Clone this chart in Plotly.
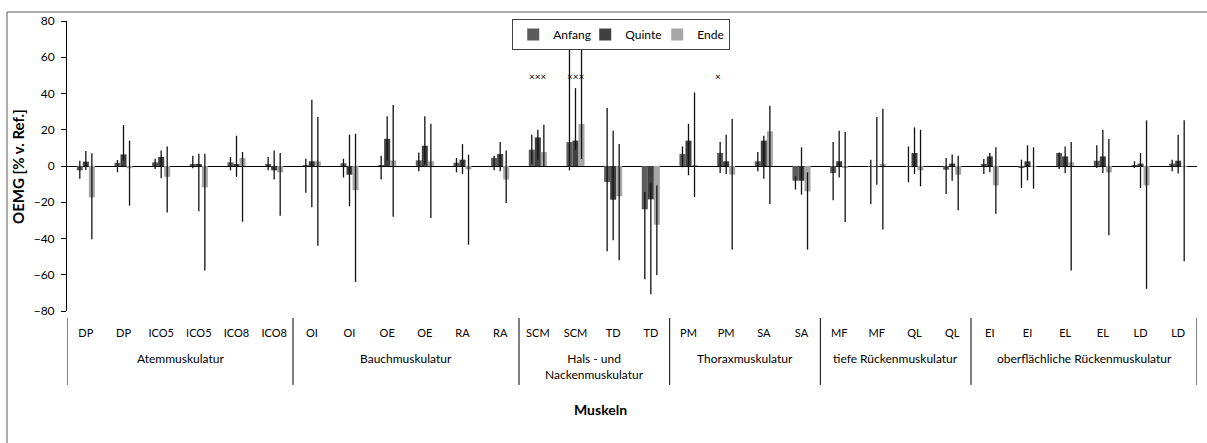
import plotly.graph_objects as go

# ---- data ----
muscles = ["DP", "DP", "ICO5", "ICO5", "ICO8", "ICO8",
           "OI", "OI", "OE", "OE", "RA", "RA",
           "SCM", "SCM", "TD", "TD",
           "PM", "PM", "SA", "SA",
           "MF", "MF", "QL", "QL",
           "EI", "EI", "EL", "EL", "LD", "LD"]
group_names = ["Atemmuskulatur", "Bauchmuskulatur", "Hals - und<br>Nackenmuskulatur",
               "Thoraxmuskulatur", "tiefe Rückenmuskulatur", "oberflächliche Rückenmuskulatur"]
group_sizes = [6, 6, 4, 4, 4, 6]

anfang = [-2.4, 1.8, 2.0, 0.7, 2.0, 0.7, 0.3, 1.5, 0.3, 3.1, 1.8, 4.4, 9.0, 13.2, -8.8,
          -23.9, 6.6, 7.2, 2.6, -8.1, -3.9, -0.5, -0.5, -2.0, 0.7, -0.7, 7.2, 2.9, 0.5, 1.3]
anfang_hi = [2.9, 3.3, 4.0, 5.7, 5.0, 5.0, 4.0, 4.0, 5.7, 7.4, 4.4, 5.7, 17.3, 69.0, 32.0,
             -14.3, 10.8, 13.2, 7.7, -5.7, 13.2, 3.5, 10.8, 4.4, 3.9, 3.5, 7.5, 11.4, 2.6, 3.5]
anfang_lo = [-7.0, -3.4, -1.7, -1.3, -2.4, -2.4, -14.7, -6.3, -7.5, -2.9, -3.5, -2.4, 1.0, -2.4, -47.0,
             -62.5, -0.7, -3.9, -2.9, -13.0, -18.9, -21.0, -9.0, -15.4, -4.4, -12.1, -1.7, -1.1, -1.1, -2.9]

quinte = [2.4, 6.4, 5.0, 0.7, 0.7, -2.4, 2.6, -4.8, 15.0, 11.2, 3.5, 6.6, 15.8, 14.0, -18.6,
          -18.4, 14.0, 2.6, 14.0, -8.1, 2.6, -0.5, 7.2, 1.3, 5.3, 2.6, 5.3, 5.3, 1.3, 2.9]
quinte_hi = [8.3, 22.6, 8.5, 6.8, 16.7, 8.5, 36.6, 17.3, 27.4, 27.4, 12.1, 13.2, 20.0, 43.0, 19.5,
             -9.7, 23.3, 17.3, 16.7, 10.3, 19.5, 27.0, 21.3, 6.3, 7.2, 11.4, 10.8, 20.0, 7.2, 17.3]
quinte_lo = [-2.2, 3.0, -6.8, -25.0, -6.0, -7.4, -22.8, -22.2, 3.0, 1.0, -4.4, -2.9, 3.5, 9.0, -41.0,
             -70.8, -5.1, -4.4, -7.0, -15.8, -6.3, -10.3, -4.4, -8.1, -3.5, -7.9, -3.9, -3.9, -12.1, -4.2]

ende = [-17.3, -1.2, -6.0, -11.8, 4.4, -3.5, 2.6, -13.4, 3.1, 2.6, -1.8, -7.5, 7.7, 23.2, -16.7,
        -32.4, 0.3, -4.8, 19.1, -14.0, -1.1, 0.7, -2.4, -4.8, -10.7, -0.3, 2.0, -3.5, -10.7, -0.5]
ende_hi = [7.0, 14.0, 10.8, 6.8, 7.7, 7.2, 27.0, 17.8, 33.6, 23.3, 6.3, 8.5, 22.8, 71.0, 12.1,
           -10.8, 40.6, 26.0, 33.3, -3.5, 18.8, 31.6, 20.0, 5.7, 10.3, 10.3, 13.2, 14.9, 25.2, 25.2]
ende_lo = [-40.4, -21.9, -25.6, -57.7, -30.7, -27.4, -44.0, -64.0, -28.0, -28.7, -43.4, -20.4, 0.0, 3.9, -52.0,
           -60.1, -17.1, -46.1, -21.0, -46.1, -30.9, -35.1, -11.2, -24.4, -26.3, -12.5, -57.7, -38.2, -67.8, -52.6]

# significance markers: (category index, text)
marks = [(12, "×××"), (13, "×××"), (17, "×")]
mark_level = 49.4

# ---- unique category keys (muscle names repeat) ----
keys = [f"{m}#{i}" for i, m in enumerate(muscles)]

FONT = "Lato"
series = [
    ("Anfang", anfang, anfang_hi, anfang_lo, "#5c5c5c"),
    ("Quinte", quinte, quinte_hi, quinte_lo, "#404040"),
    ("Ende", ende, ende_hi, ende_lo, "#a6a6a6"),
]

fig = go.Figure()
for name, vals, hi, lo, col in series:
    fig.add_trace(go.Bar(
        name=name, x=keys, y=vals, marker=dict(color=col, line=dict(width=0)),
        error_y=dict(type="data", symmetric=False,
                     array=[h - v for h, v in zip(hi, vals)],
                     arrayminus=[v - l for v, l in zip(vals, lo)],
                     color="#111111", thickness=1.3, width=0),
    ))

for idx, txt in marks:
    fig.add_annotation(x=idx, y=mark_level, xref="x", yref="y", text=txt, showarrow=False,
                       font=dict(family=FONT, size=10, color="#000000"),
                       xshift=-8 if txt == "×" else 0)

# group labels and dividers on the category axis
start = 0
bounds = [-0.5]
for g, n in zip(group_names, group_sizes):
    fig.add_annotation(x=start + (n - 1) / 2, xref="x", y=-0.131, yref="paper",
                       yanchor="top", xanchor="center", text=g, showarrow=False,
                       font=dict(family=FONT, size=12, color="#000000"))
    start += n
    bounds.append(start - 0.5)
for b in bounds:
    fig.add_shape(type="line", xref="x", yref="paper", x0=b, x1=b, y0=-0.024, y1=-0.255,
                  line=dict(color="#000000", width=1))

fig.add_annotation(xref="paper", yref="paper", x=-0.0434, y=0.5, text="<b>OEMG [% v. Ref.]</b>",
                   textangle=-90, showarrow=False, xanchor="center", yanchor="middle",
                   font=dict(family=FONT, size=15, color="#000000"))
fig.add_annotation(xref="paper", yref="paper", x=0.4717, y=-0.341, text="<b>Muskeln</b>",
                   showarrow=False, xanchor="center", yanchor="middle",
                   font=dict(family=FONT, size=14, color="#000000"))

# outer chart border
fig.add_shape(type="rect", xref="paper", yref="paper", x0=-0.0531, x1=1.06, y0=-0.5, y1=1.031,
              line=dict(color="#595959", width=1), layer="below")

fig.update_layout(
    width=1207, height=443,
    margin=dict(l=67, r=10, t=21, b=132),
    paper_bgcolor="white", plot_bgcolor="white",
    barmode="group", bargap=0.52, bargroupgap=0,
    font=dict(family=FONT, size=11, color="#000000"),
    legend=dict(orientation="h", x=0.394, y=1.007, xanchor="left", yanchor="top",
                bgcolor="white", bordercolor="#404040", borderwidth=1,
                font=dict(family=FONT, size=12), itemwidth=30,
                entrywidth=27, entrywidthmode="pixels"),
    xaxis=dict(type="category", range=[-0.5, len(muscles) - 0.5], showline=False, ticks="",
               showgrid=False, tickmode="array", tickvals=keys, ticktext=muscles,
               tickangle=0, ticklabelstandoff=14,
               tickfont=dict(family=FONT, size=11, color="#000000")),
    yaxis=dict(range=[-80, 80], dtick=20, showgrid=False, showline=True, linecolor="#000000",
               linewidth=1, ticks="outside", ticklen=5, tickcolor="#000000",
               zeroline=True, zerolinecolor="#000000", zerolinewidth=1,
               tickfont=dict(family=FONT, size=12, color="#000000"), ticklabelstandoff=4),
)

fig.write_html("out.html")
